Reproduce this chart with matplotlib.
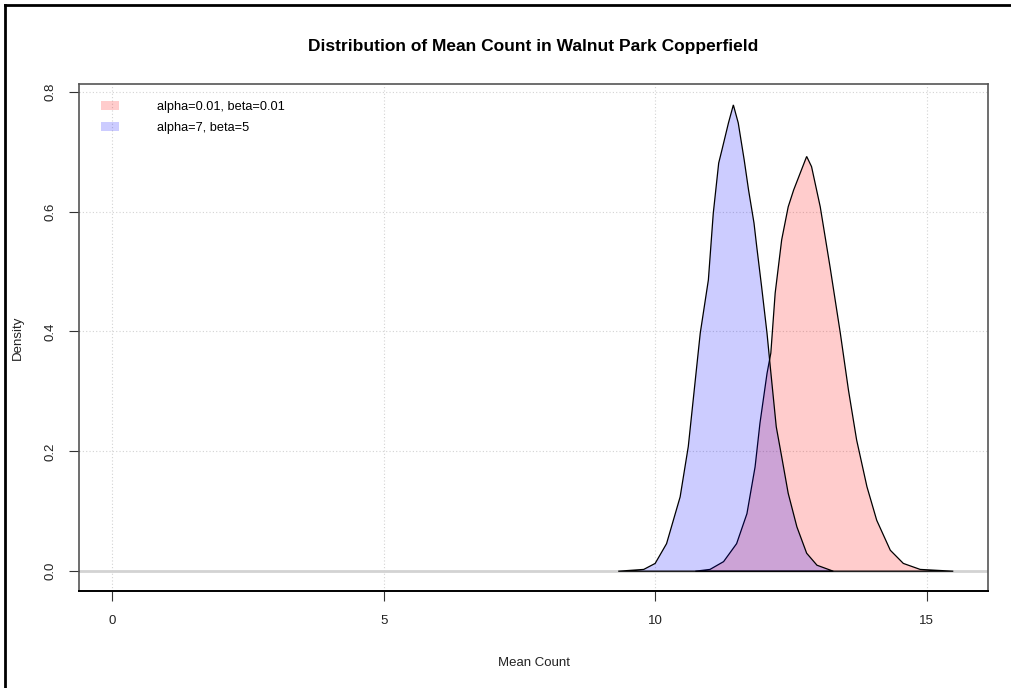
import matplotlib
matplotlib.use("Agg")
import matplotlib.pyplot as plt
from matplotlib.lines import Line2D
from matplotlib.patches import Patch

plt.rcParams["font.family"] = ["Liberation Sans", "DejaVu Sans"]

TITLE = "Distribution of Mean Count in Walnut Park Copperfield"
LABELS = ["alpha=0.01, beta=0.01", "alpha=7, beta=5"]

# density curve (alpha=0.01, beta=0.01)
red_x = [10.74, 11.01, 11.26, 11.50, 11.69, 11.84, 11.93, 12.06, 12.13, 12.21,
         12.33, 12.45, 12.55, 12.67, 12.79, 12.88, 13.04, 13.22, 13.41, 13.56,
         13.71, 13.90, 14.08, 14.33, 14.57, 14.88, 15.49]
red_y = [0.0, 0.003, 0.016, 0.046, 0.096, 0.174, 0.247, 0.330, 0.364, 0.464,
         0.553, 0.608, 0.636, 0.664, 0.692, 0.675, 0.608, 0.508, 0.397, 0.302,
         0.219, 0.141, 0.085, 0.035, 0.013, 0.003, 0.0]

# density curve (alpha=7, beta=5)
blue_x = [9.32, 9.79, 10.00, 10.21, 10.46, 10.61, 10.83, 10.98, 11.07, 11.17,
          11.23, 11.35, 11.44, 11.53, 11.64, 11.72, 11.82, 11.87, 11.96, 12.06,
          12.12, 12.23, 12.33, 12.45, 12.61, 12.79, 12.98, 13.28]
blue_y = [0.0, 0.003, 0.013, 0.046, 0.124, 0.208, 0.397, 0.486, 0.597, 0.681,
          0.703, 0.748, 0.778, 0.748, 0.686, 0.636, 0.581, 0.542, 0.475, 0.397,
          0.341, 0.241, 0.191, 0.130, 0.074, 0.030, 0.010, 0.0]

x_ticks = [0, 5, 10, 15]
y_ticks = [0.0, 0.2, 0.4, 0.6, 0.8]

fig = plt.figure(figsize=(10.11, 6.88), dpi=100)
ax = fig.add_axes([0.0781, 0.141, 0.8992, 0.737])

ax.set_xlim(-0.61, 16.13)
ax.set_ylim(-0.033, 0.813)

for xv in x_ticks:
    ax.axvline(xv, color="#d3d3d3", linestyle=(0, (1, 2)), linewidth=0.8, zorder=0)
for yv in y_ticks:
    ax.axhline(yv, color="#d3d3d3", linestyle=(0, (1, 2)), linewidth=0.8, zorder=0)
ax.axhline(0, color="#d3d3d3", linewidth=2, zorder=1)

ax.fill(red_x, red_y, facecolor=(1, 0, 0, 0.2), edgecolor="black",
        linewidth=0.9, zorder=2)
ax.fill(blue_x, blue_y, facecolor=(0, 0, 1, 0.2), edgecolor="black",
        linewidth=0.9, zorder=3)

ax.set_xticks(x_ticks)
ax.set_xticklabels([str(v) for v in x_ticks])
ax.set_yticks(y_ticks)
ax.set_yticklabels([f"{v:.1f}" for v in y_ticks], rotation=90, va="center")
ax.tick_params(axis="both", length=7, width=0.8, color="#333333",
               labelsize=9.5, labelcolor="#222222", pad=10)
ax.tick_params(axis="y", pad=9)

for side in ("left", "top", "right"):
    ax.spines[side].set_color("#555555")
    ax.spines[side].set_linewidth(1.2)
ax.spines["bottom"].set_color("black")
ax.spines["bottom"].set_linewidth(1.4)

ax.set_xlabel("Mean Count", fontsize=9.5, color="#222222", labelpad=22)
ax.set_ylabel("Density", fontsize=9.5, color="#222222", labelpad=15)
fig.text(0.5277, 0.933, TITLE, ha="center", va="center",
         fontsize=12.5, fontweight="bold")

handles = [Patch(facecolor=(1, 0, 0, 0.2), edgecolor="none"),
           Patch(facecolor=(0, 0, 1, 0.2), edgecolor="none")]
ax.legend(handles, LABELS, loc="upper left", frameon=False, fontsize=9.2,
          handlelength=1.4, handleheight=0.7, handletextpad=3.0,
          labelspacing=0.72, borderaxespad=0.6,
          bbox_to_anchor=(0.0104, 1 - 4 / 507))

# screenshot border on left and top
fig.add_artist(Line2D([5 / 1011, 5 / 1011], [0, 1 - 5 / 688], color="black",
                      linewidth=2, transform=fig.transFigure))
fig.add_artist(Line2D([5 / 1011, 1], [1 - 5 / 688, 1 - 5 / 688], color="black",
                      linewidth=2, transform=fig.transFigure))

fig.savefig("out.png", dpi=100)
